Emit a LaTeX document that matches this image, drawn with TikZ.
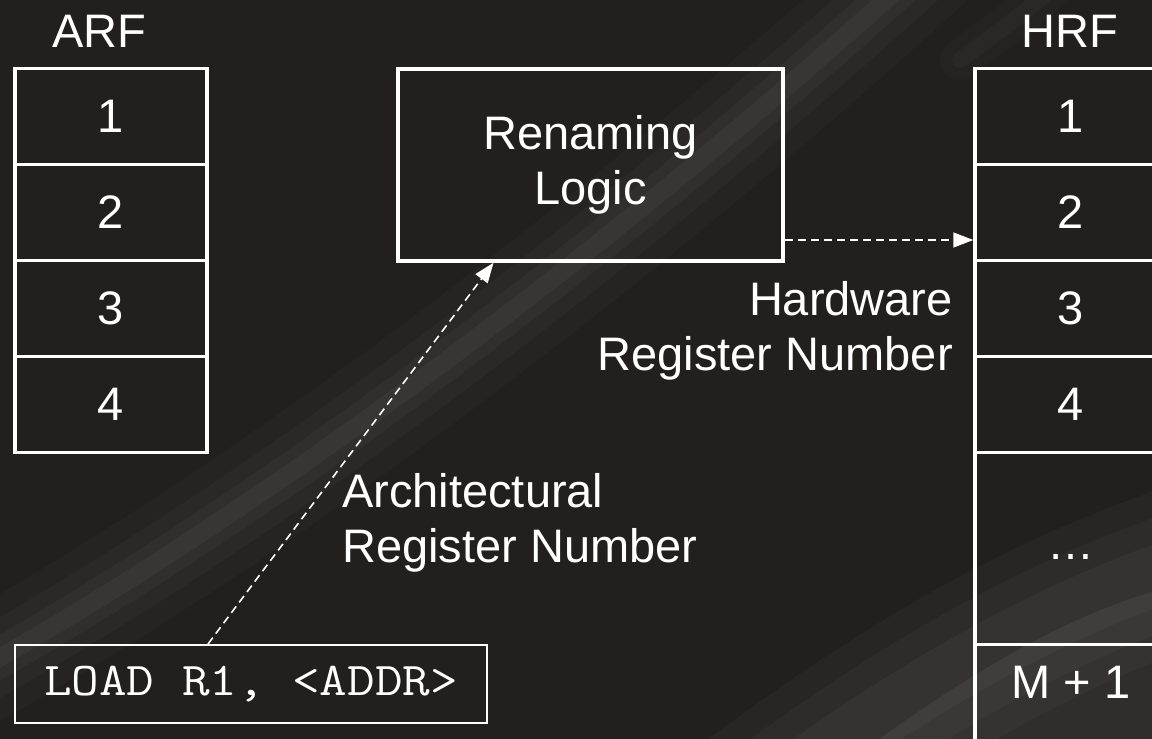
\documentclass[tikz,border=0pt]{standalone}
\usepackage{fontspec}
\usepackage{graphicx}
\setmainfont{Liberation Sans}
\usetikzlibrary{arrows.meta,calc}
\definecolor{bg}{RGB}{35,31,29}
\definecolor{band}{RGB}{150,150,150}
\begin{document}
\begin{tikzpicture}[x=1pt,y=-1pt,
  txt/.style={text=white,font=\fontsize{47}{55}\selectfont,inner sep=0pt},
  cell/.style={draw=white,line width=3.5pt,minimum width=192pt,minimum height=96pt,inner sep=0pt,text=white,font=\fontsize{47}{55}\selectfont},
  dasharrow/.style={draw=white,line width=1.6pt,dash pattern=on 8pt off 5pt,-{Triangle[length=20pt,width=15pt]}},
  bandstroke/.style={line cap=round,draw=band}
]
\useasboundingbox (0,0) rectangle (1152,739);
\fill[bg] (0,0) rectangle (1152,739);
\begin{scope}
\clip (0,0) rectangle (1152,739);
% main swoosh
\foreach \w/\o in {110/0.04,70/0.05,40/0.06,18/0.07}{
  \draw[bandstroke,line width=\w pt,opacity=\o] (-40,680) .. controls (250,520) and (600,260) .. (930,-40);
}
% lower right haze
\foreach \w/\o in {160/0.05,110/0.06,60/0.07}{
  \draw[bandstroke,line width=\w pt,opacity=\o] (760,800) .. controls (950,660) and (1080,600) .. (1200,560);
}
\fill[band,opacity=0.12] (850,760) .. controls (1000,650) and (1100,600) .. (1200,580) -- (1200,760) -- cycle;
% upper right streak
\foreach \w/\o in {40/0.03,16/0.05}{
  \draw[bandstroke,line width=\w pt,opacity=\o] (960,60) .. controls (1000,30) and (1030,10) .. (1060,-20);
}
\end{scope}

% ARF
\node[txt] (arflbl) at (99,31) {ARF};
\node[cell] (a1) at (111,116.5) {1};
\node[cell] (a2) at (111,212.5) {2};
\node[cell] (a3) at (111,308.5) {3};
\node[cell] (a4) at (111,404.5) {4};

% Renaming logic
\node[draw=white,line width=3.5pt,minimum width=385pt,minimum height=192pt,align=center,text=white,font=\fontsize{47}{55}\selectfont] (ren) at (590.5,165) {Renaming\\Logic};

% HRF
\begin{scope}
\clip (0,0) rectangle (1152,739);
\node[txt] (hrflbl) at (1070,31) {HRF};
\node[cell] (h1) at (1071,116.5) {1};
\node[cell] (h2) at (1071,212.5) {2};
\node[cell] (h3) at (1071,308.5) {3};
\node[cell] (h4) at (1071,404.5) {4};
\node[cell,minimum height=192pt] (h5) at (1071,548.5) {\raisebox{-22pt}{\dots}};
\node[cell] (h6) at (1071,692.5) {};
\node[txt] (h6t) at (1071,682) {M + 1};
\end{scope}

% labels
\node[txt,align=right,anchor=east] (hwl) at (953,331) {Hardware\\Register Number};
\node[txt,align=left,anchor=west] (arl) at (342,523) {Architectural\\Register Number};

% instruction
\node[draw=white,line width=2pt,minimum width=472pt,minimum height=78pt,text=white,font=\ttfamily\fontsize{47}{55}\selectfont] (load) at (251,684) {\scalebox{1.14}[1]{LOAD R1, <ADDR>}};

% connectors
\draw[dasharrow] ([xshift=-43pt]load.north) -- ([xshift=-97pt]ren.south);
\coordinate (rs) at ([yshift=-75pt]ren.east);
\draw[dasharrow] (rs) -- (rs -| h2.west);
\end{tikzpicture}
\end{document}
